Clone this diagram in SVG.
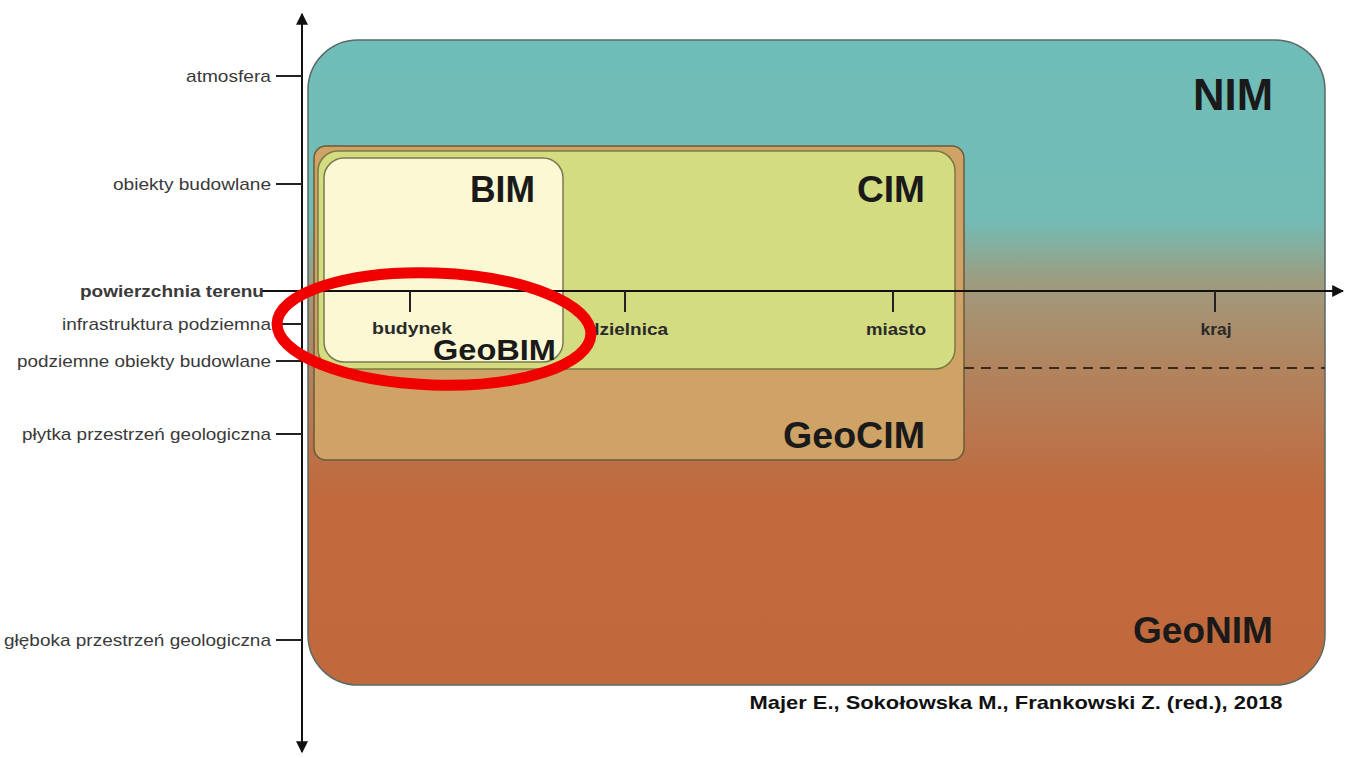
<svg xmlns="http://www.w3.org/2000/svg" width="1345" height="758" viewBox="0 0 1345 758">
<defs>
<linearGradient id="nimGrad" x1="0" y1="0" x2="0" y2="1" gradientUnits="objectBoundingBox">
<stop offset="0" stop-color="#6fbdb9"/>
<stop offset="0.28" stop-color="#73bcb5"/>
<stop offset="0.38" stop-color="#a09a7c"/>
<stop offset="0.5" stop-color="#b08560"/>
<stop offset="0.7" stop-color="#c06a3e"/>
<stop offset="1" stop-color="#c0693d"/>
</linearGradient>
<marker id="arr" viewBox="0 0 10 10" refX="9" refY="5" markerWidth="12" markerHeight="12" markerUnits="userSpaceOnUse" orient="auto">
<path d="M0,0 L10,5 L0,10 z" fill="#111"/>
</marker>
</defs>
<style>
.lbl{font-family:"Liberation Sans",Arial,sans-serif;font-size:17px;fill:#3a3a3a;text-anchor:end}
.big{font-family:"Liberation Sans",Arial,sans-serif;font-weight:bold;fill:#1a1a1a;text-anchor:end}
.tick{stroke:#222;stroke-width:2}
.scale{font-family:"Liberation Sans",Arial,sans-serif;font-size:17px;font-weight:bold;fill:#2a2a2a;text-anchor:middle}
</style>
<rect width="1345" height="758" fill="#fff"/>
<g id="NIM">
<rect x="308" y="40" width="1017" height="645" rx="50" fill="url(#nimGrad)" stroke="#5a6a66" stroke-width="1.5"/>
<text class="big" x="1273" y="110" font-size="44" textLength="80" lengthAdjust="spacingAndGlyphs">NIM</text>
<text class="big" x="1273" y="643" font-size="36" textLength="140" lengthAdjust="spacingAndGlyphs">GeoNIM</text>
</g>
<g id="GeoCIM">
<rect x="314" y="146" width="650" height="314" rx="12" fill="#cfa265" stroke="#6b5a3a" stroke-width="1.5"/>
<text class="big" x="925" y="448" font-size="36" textLength="142" lengthAdjust="spacingAndGlyphs">GeoCIM</text>
</g>
<g id="CIM">
<rect x="318" y="151" width="637" height="218" rx="20" fill="#d4dc82" stroke="#7a7a40" stroke-width="1.5"/>
<text class="big" x="925" y="202" font-size="37" textLength="68" lengthAdjust="spacingAndGlyphs">CIM</text>
</g>
<g id="BIM">
<rect x="324" y="158" width="239" height="204" rx="20" fill="#fdf8d4" stroke="#7a7a50" stroke-width="1.5"/>
<text class="big" x="535" y="202" font-size="37" textLength="65" lengthAdjust="spacingAndGlyphs">BIM</text>
<text class="big" x="556" y="360" font-size="30" textLength="123" lengthAdjust="spacingAndGlyphs">GeoBIM</text>
</g>
<g id="dashed">
<line x1="964" y1="368" x2="1325" y2="368" stroke="#3a2a1a" stroke-width="2" stroke-dasharray="10,7"/>
</g>
<g id="connectors">
<line x1="302" y1="300" x2="302" y2="14" stroke="#111" stroke-width="2" marker-end="url(#arr)"/>
<line x1="302" y1="290" x2="302" y2="752" stroke="#111" stroke-width="2" marker-end="url(#arr)"/>
<line x1="262" y1="291" x2="1343" y2="291" stroke="#111" stroke-width="2" marker-end="url(#arr)"/>
<line class="tick" x1="276" y1="76" x2="302" y2="76"/>
<line class="tick" x1="276" y1="184" x2="302" y2="184"/>
<line class="tick" x1="276" y1="324" x2="302" y2="324"/>
<line class="tick" x1="276" y1="361" x2="302" y2="361"/>
<line class="tick" x1="276" y1="434" x2="302" y2="434"/>
<line class="tick" x1="276" y1="640" x2="302" y2="640"/>
<line class="tick" x1="410" y1="291" x2="410" y2="312"/>
<line class="tick" x1="625" y1="291" x2="625" y2="312"/>
<line class="tick" x1="893" y1="291" x2="893" y2="312"/>
<line class="tick" x1="1215" y1="291" x2="1215" y2="312"/>
</g>
<g id="vertical-labels">
<text class="lbl" x="271" y="82" textLength="85" lengthAdjust="spacingAndGlyphs">atmosfera</text>
<text class="lbl" x="271" y="190" textLength="158" lengthAdjust="spacingAndGlyphs">obiekty budowlane</text>
<text class="lbl" x="264" y="297" font-weight="bold" fill="#222" textLength="184" lengthAdjust="spacingAndGlyphs">powierzchnia terenu</text>
<text class="lbl" x="271" y="330" textLength="209" lengthAdjust="spacingAndGlyphs">infrastruktura podziemna</text>
<text class="lbl" x="271" y="367" textLength="254" lengthAdjust="spacingAndGlyphs">podziemne obiekty budowlane</text>
<text class="lbl" x="271" y="440" textLength="249" lengthAdjust="spacingAndGlyphs">płytka przestrzeń geologiczna</text>
<text class="lbl" x="271" y="646" textLength="267" lengthAdjust="spacingAndGlyphs">głęboka przestrzeń geologiczna</text>
</g>
<g id="scale-labels">
<text class="scale" x="412" y="334" textLength="80" lengthAdjust="spacingAndGlyphs">budynek</text>
<text class="scale" x="628" y="335" textLength="80" lengthAdjust="spacingAndGlyphs">dzielnica</text>
<text class="scale" x="896" y="335" textLength="60" lengthAdjust="spacingAndGlyphs">miasto</text>
<text class="scale" x="1216" y="335" textLength="31" lengthAdjust="spacingAndGlyphs">kraj</text>
</g>
<g id="highlight">
<ellipse cx="434" cy="329" rx="157" ry="56" fill="none" stroke="#f00000" stroke-width="11" transform="rotate(2 434 329)"/>
</g>
<g id="citation">
<text x="1016" y="709" font-family="'Liberation Sans',Arial,sans-serif" font-weight="bold" font-size="19" fill="#111" text-anchor="middle" textLength="533" lengthAdjust="spacingAndGlyphs">Majer E., Sokołowska M., Frankowski Z. (red.), 2018</text>
</g>
</svg>
